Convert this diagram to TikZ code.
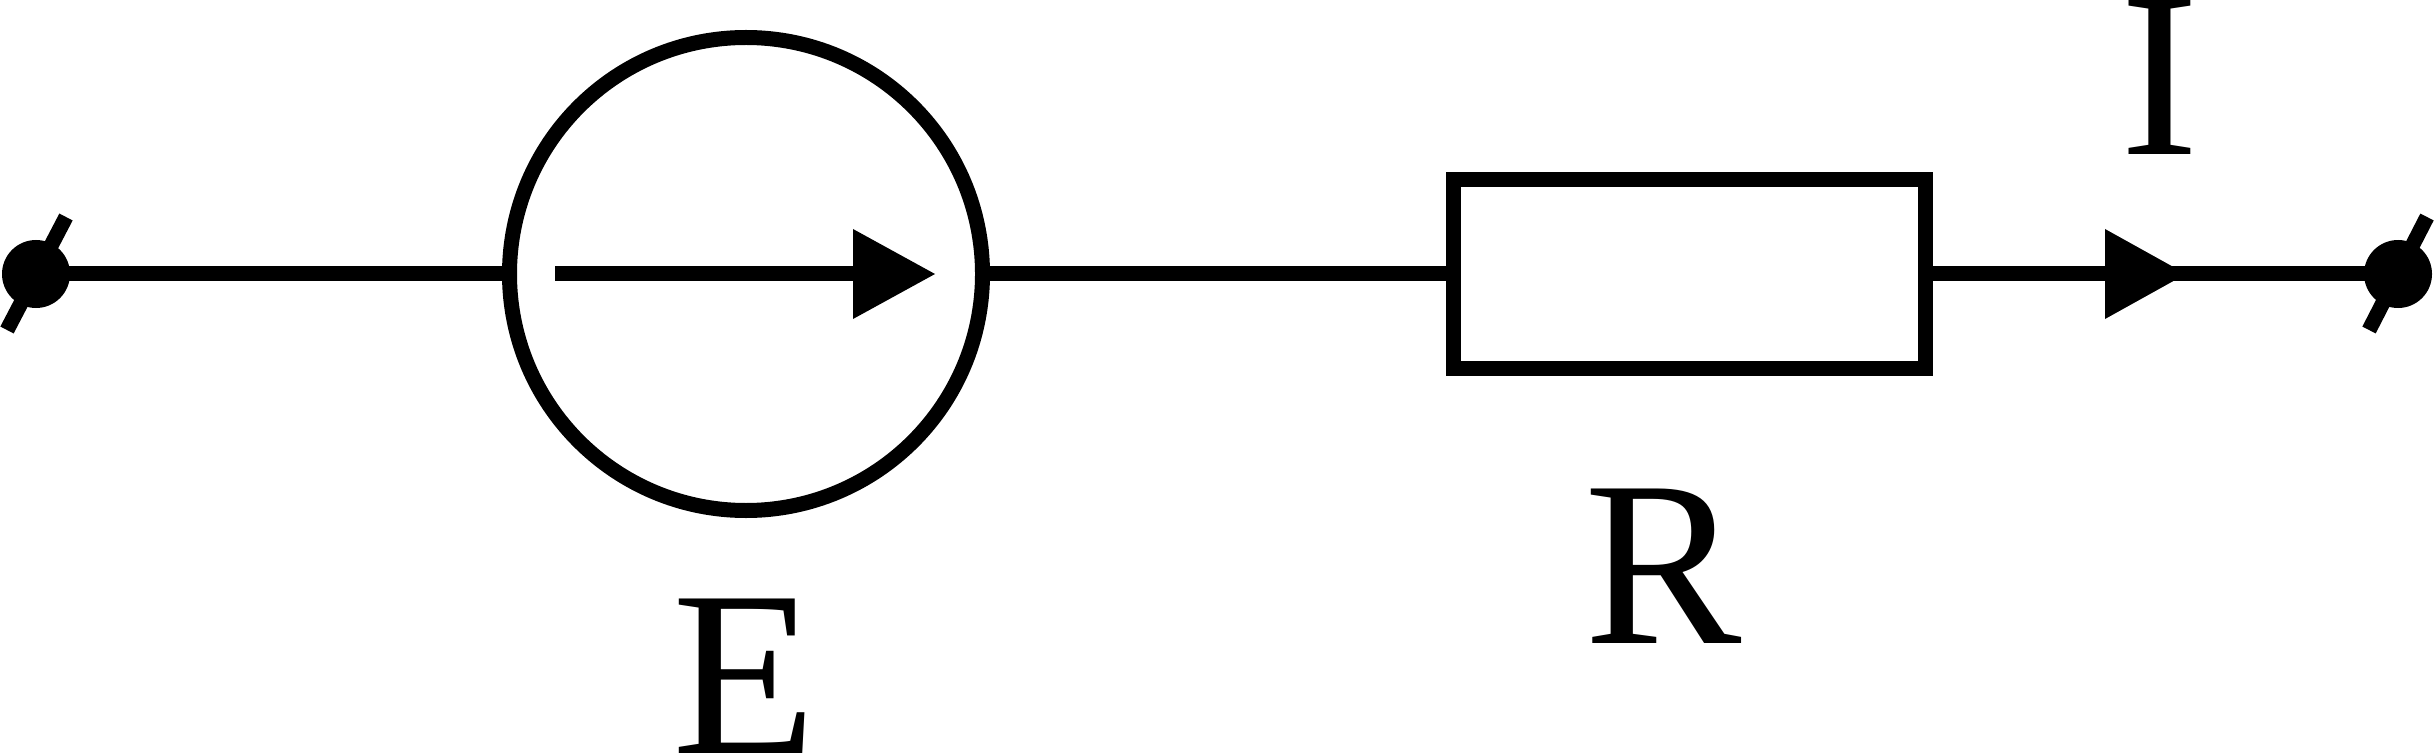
\documentclass[tikz,border=0pt]{standalone}
\usepackage{fontspec}
\setmainfont{Liberation Serif}
\begin{document}
\begin{tikzpicture}[x=0.5pt,y=-0.5pt,
  wire/.style={line width=7.5pt,line cap=butt,black},
  terminal/.style={circle,fill=black,draw=none,minimum size=34pt,inner sep=0pt},
  source/.style={circle,draw=black,line width=7.5pt,fill=none,minimum size=236.5pt,inner sep=0pt},
  resistor/.style={rectangle,draw=black,line width=7.5pt,fill=none,minimum width=236pt,minimum height=94.5pt,inner sep=0pt},
  lab/.style={inner sep=0pt,font=\fontsize{118}{118}\selectfont,anchor=base},
  headfill/.style={fill=black,draw=none}]
\useasboundingbox (0,0) rectangle (2435,754);
% nodes
\node[terminal] (tl) at (36,274) {};
\node[terminal] (tr) at (2398,274) {};
\node[source] (src) at (746,274) {};
\node[resistor] (res) at (1689.5,274) {};
% ticks
\coordinate (tla) at (66,217);
\coordinate (tlb) at (7,330);
\coordinate (tra) at (2427,217);
\coordinate (trb) at (2369,330);
\draw[wire] (tla) -- (tlb);
\draw[wire] (tra) -- (trb);
% wires
\draw[wire] (tl.center) -- (tl.center -| src.west);
\draw[wire] (src.east |- res.west) -- (res.west);
\draw[wire] (res.east) -- (tr.center);
% internal arrow
\coordinate (ea) at (555,274);
\coordinate (eb) at (853,274);
\coordinate (ec) at (935,274);
\draw[wire] (ea) -- (eb);
\fill[headfill] (853,229) -- (ec) -- (853,319) -- cycle;
% current arrow
\fill[headfill] (2105,229) -- (2186,274) -- (2105,319) -- cycle;
% labels
\node[lab] (E) at (745,753) {E};
\node[lab] (R) at (1663,643) {R};
\node[lab] (I) at (2160,155) {I};
\end{tikzpicture}
\end{document}
